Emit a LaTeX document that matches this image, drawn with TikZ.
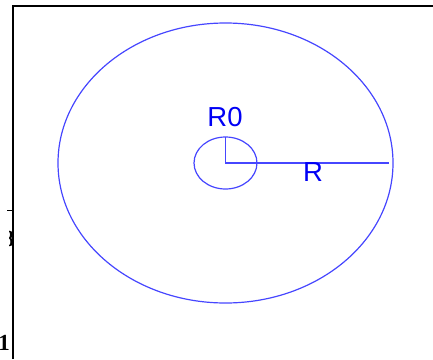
\documentclass[tikz,border=0pt]{standalone}
\usepackage{fontspec}
\setmainfont{Liberation Serif}
\setsansfont{Liberation Sans}
\usetikzlibrary{positioning}
\definecolor{lineblue}{RGB}{70,70,255}
\definecolor{textblue}{RGB}{0,0,245}

\begin{document}
\begin{tikzpicture}[
    x=1pt, y=-1pt,
    ring/.style={draw=lineblue, line width=1.2pt},
    lbl/.style={font=\sffamily\fontsize{27.5}{27.5}\selectfont, text=textblue, inner sep=0pt},
    axis/.style={draw=black, line width=1.8pt},
    ticklbl/.style={font=\rmfamily\bfseries\fontsize{23}{23}\selectfont, inner sep=0pt}
  ]
    \useasboundingbox (0,0) rectangle (433,359);

    %--- Frame and tick ---
    \draw[axis] (13,359) -- (13,6) -- (433,6);
    \draw[black, line width=1.2pt] (7,210.5) -- (13,210.5);
    \begin{scope}
      \clip (9.5,0) rectangle (433,359);
      \node[ticklbl, anchor=base east] (t8) at (14.5,246) {8};
    \end{scope}
    \node[ticklbl, anchor=base east] (t1) at (10,350) {1};

    %--- Circles ---
    \coordinate (c)    at (225.5,163);
    \coordinate (top0) at (225.5,137);
    \coordinate (rend) at (389,163);
    \draw[ring] (c) ellipse [x radius=167.5, y radius=140];
    \draw[ring] (c) ellipse [x radius=31.5, y radius=26];

    %--- Radii ---
    \draw[ring] (top0) -- (c) -- (rend);

    %--- Labels ---
    \node[lbl, anchor=base] (r0) at (225,126.5) {R0};
    \node[lbl, anchor=base] (r)  at (313,181.5) {R};
  \end{tikzpicture}
\end{document}
